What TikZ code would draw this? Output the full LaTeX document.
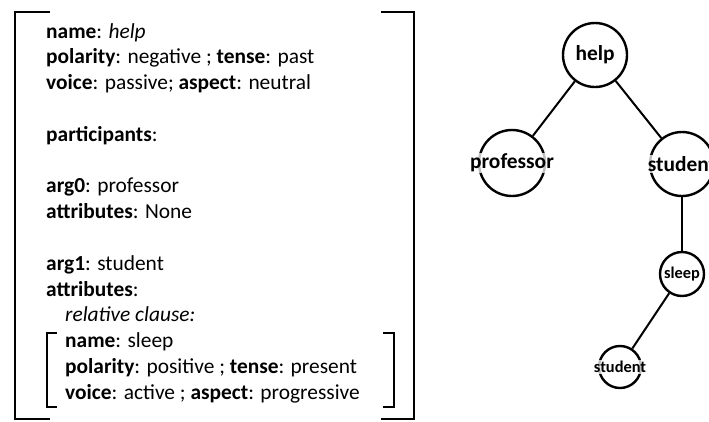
\documentclass[tikz,border=0pt]{standalone}
\usepackage{fontspec}
\setmainfont{Carlito}
\usetikzlibrary{positioning}
\usetikzlibrary{calc}

\tikzset{
  vertex/.style={circle,draw,line width=2.4pt,fill=white,inner sep=0pt},
  word/.style={font=\fontsize{21.4}{24}\selectfont\bfseries,fill=white,fill opacity=0.75,text opacity=1,inner sep=1pt},
  smallword/.style={word,font=\fontsize{16.4}{18}\selectfont\bfseries},
  edge/.style={line width=2pt},
  brack/.style={line width=2.6pt},
  txtline/.style={anchor=base west,inner sep=0pt,font=\fontsize{21.4}{25.8}\selectfont}
}

\begin{document}
\begin{tikzpicture}[x=1pt,y=-1pt]

\useasboundingbox (0,0) rectangle (709,421);
\clip (0,0) rectangle (709,421);

\coordinate (t0) at (46,38);
\coordinate (t1) at (65,38);

\node[txtline] (l0)  at ($(t0)+(0, 0*25.8)$) {\textbf{name}: \textit{help}};
\node[txtline] (l1)  at ($(t0)+(0, 1*25.8)$) {\textbf{polarity}: negative ; \textbf{tense}: past};
\node[txtline] (l2)  at ($(t0)+(0, 2*25.8)$) {\textbf{voice}: passive; \textbf{aspect}: neutral};
\node[txtline] (l4)  at ($(t0)+(0, 4*25.8)$) {\textbf{participants}:};
\node[txtline] (l6)  at ($(t0)+(0, 6*25.8)$) {\textbf{arg0}: professor};
\node[txtline] (l7)  at ($(t0)+(0, 7*25.8)$) {\textbf{attributes}: None};
\node[txtline] (l9)  at ($(t0)+(0, 9*25.8)$) {\textbf{arg1}: student};
\node[txtline] (l10) at ($(t0)+(0,10*25.8)$) {\textbf{attributes}:};
\node[txtline] (l11) at ($(t1)+(0,11*25.8)$) {\textit{relative clause:}};
\node[txtline] (l12) at ($(t1)+(0,12*25.8)$) {\textbf{name}: sleep};
\node[txtline] (l13) at ($(t1)+(0,13*25.8)$) {\textbf{polarity}: positive ; \textbf{tense}: present};
\node[txtline] (l14) at ($(t1)+(0,14*25.8)$) {\textbf{voice}: active ; \textbf{aspect}: progressive};

% brackets
\draw[brack] (50,12) -- (15,12) -- (15,419) -- (50,419);
\draw[brack] (381,12) -- (414,12) -- (414,419) -- (381,419);
\draw[brack] (57,333) -- (47,333) -- (47,407) -- (57,407);
\draw[brack] (383,333) -- (394,333) -- (394,407) -- (383,407);

% tree
\node[vertex,minimum size=64pt] (help)   at (595,55)  {};
\node[vertex,minimum size=66pt] (prof)   at (512,163) {};
\node[vertex,minimum size=64pt] (stud)   at (682,164) {};
\node[vertex,minimum size=44pt] (sleep)  at (682,274) {};
\node[vertex,minimum size=42pt] (stud2)  at (620,367) {};

\draw[edge] (help)--(prof);
\draw[edge] (help)--(stud);
\draw[edge] (stud)--(sleep);
\draw[edge] (sleep)--(stud2);

\node[word] (helpw) at (help) {help};
\node[word] (profw) at (prof) {professor};
\node[word] (studw) at (stud) {student};
\node[smallword] (sleepw) at (sleep) {sleep};
\node[smallword] (stud2w) at (stud2) {student};

\end{tikzpicture}
\end{document}
